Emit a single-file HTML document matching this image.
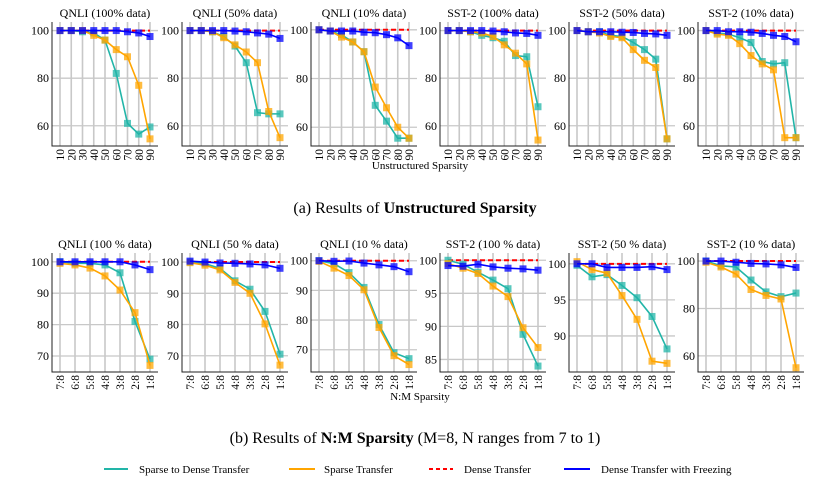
<!DOCTYPE html>
<html><head><meta charset="utf-8"><style>
html,body{margin:0;padding:0;background:#fff;}
svg{display:block;font-family:"Liberation Serif",serif;}
</style></head><body>
<svg id="chart" width="834" height="481" viewBox="0 0 834 481" xmlns="http://www.w3.org/2000/svg">
<text x="420" y="169" text-anchor="middle" font-size="11">Unstructured Sparsity</text>
<text x="415" y="213" text-anchor="middle" font-size="16">(a) Results of <tspan font-weight="bold">Unstructured Sparsity</tspan></text>
<text x="420" y="400" text-anchor="middle" font-size="11">N:M Sparsity</text>
<text x="415" y="443" text-anchor="middle" font-size="16">(b) Results of <tspan font-weight="bold">N:M Sparsity</tspan> (M=8, N ranges from 7 to 1)</text>
<g font-size="11">
<g><line x1="104" y1="469" x2="128" y2="469" stroke="#22b5a8" stroke-width="2"/><text x="139" y="473">Sparse to Dense Transfer</text></g>
<g><line x1="289" y1="469" x2="315" y2="469" stroke="#ffa500" stroke-width="2"/><text x="324" y="473">Sparse Transfer</text></g>
<g><line x1="429" y1="469" x2="453" y2="469" stroke="#f00" stroke-width="2" stroke-dasharray="4,3"/><text x="464" y="473">Dense Transfer</text></g>
<g><line x1="564" y1="469" x2="590" y2="469" stroke="#0000ff" stroke-width="2"/><text x="601" y="473">Dense Transfer with Freezing</text></g>
</g>
</svg>
<script>
const unstructCats = ["10","20","30","40","50","60","70","80","90"];
const nmCats = ["7:8","6:8","5:8","4:8","3:8","2:8","1:8"];
const titles = ["QNLI (100% data)","QNLI (50% data)","QNLI (10% data)","SST-2 (100% data)","SST-2 (50% data)","SST-2 (10% data)",
"QNLI (100 % data)","QNLI (50 % data)","QNLI (10 % data)","SST-2 (100 % data)","SST-2 (50 % data)","SST-2 (10 % data)"];
const s2dValues = [
[100,100,99.5,99,96,82,61,56.5,59.5],
[100,100,99.5,97.5,93.5,86.5,65.5,65,65],
[100,99.5,98,95,91,69,62.5,55.5,55.5],
[100,100,99.5,98,97,95.5,89.5,89,68],
[100,99.5,99.5,98,97.5,95,92,88,54.5],
[100,99,98.5,97,95,87,86,86.5,55],
[100,99.5,99.5,99,96.5,81,69],
[100,99.5,98,94,91.3,84.2,70.5],
[100,99,96,91,78.5,69,67],
[100,99.4,98.2,97,95.7,88.8,84],
[99.8,98.2,98.5,97,95.3,92.7,88.2],
[100,98,97.5,92,87,85,86.5]];
const sparseValues = [
[100,100,100,98,96,92,89,77,54.5],
[100,100,99.5,97,94,91,86.5,66,55],
[100,99.5,97,95,91,76.5,68,60,55.5],
[100,100,99.5,99,97.5,94,90.5,86,54],
[100,99.5,99,97.5,97,92,87.5,84.5,54.5],
[100,98.5,98,94.5,89.5,86,83.5,55,55],
[99.5,99,98,95.5,91,83.8,67],
[99.8,99,97.5,93.5,90,80.2,67],
[99.8,97.5,95,90.2,77.5,68,65],
[99.5,98.8,98,96.1,94.5,89.8,86.8],
[100.3,99.2,98.7,95.6,92.3,86.5,86.2],
[99.5,97.5,94.5,88,85.5,84,55]];
const freezeValues = [
[100,100,100,100,100,100,99.5,99,97.5],
[100,100,100,100,99.8,99.5,99,98.5,96.7],
[100,99.5,99.5,99.5,99,98.8,98,96.7,93.5],
[100,100,100,100,99.8,99.5,99,98.8,98],
[100,99.5,99.5,99.5,99.3,99.2,98.8,98.6,98],
[100,100,99.5,99.5,99.3,98.8,98,97.5,95.3],
[100,100,100,100,100,99,97.5],
[100.3,100,99.7,99.6,99.4,99.1,98],
[100,99.8,99.9,99.2,98.6,98,96.3],
[99.2,99.1,99.4,99,98.8,98.7,98.5],
[100,100,99.5,99.5,99.5,99.6,99.2],
[100,100,99.5,99,98.8,98.4,97.3]];
const denseValue = [100,100,100,100,100,100,100,100,100,100,100,100];
const yTicks = [[60,80,100],[60,80,100],[60,80,100],[60,80,100],[60,80,100],[60,80,100],
[70,80,90,100],[70,80,90,100],[70,80,90,100],[85,90,95,100],[90,95,100],[60,80,100]];
const yDomains = [[51.5,103.6],[51.5,103.6],[52.3,103.2],[51.5,103.6],[51.5,103.6],[51.5,103.6],
[64.9,102.8],[64.8,102.9],[62.5,102.6],[83.1,101.1],[85,101.5],[53.2,103.4]];

const NS="http://www.w3.org/2000/svg";
const svg=document.getElementById('chart');
function mk(tag,attrs,parent){const e=document.createElementNS(NS,tag);for(const k in attrs)e.setAttribute(k,attrs[k]);parent.appendChild(e);return e;}
const lefts=[52,182,311,440,569,698];
const TEAL="#22b5a8",ORANGE="#ffa500",BLUE="#0000ff";
for(let p=0;p<12;p++){
  const row=p<6?0:1;
  const L=lefts[p%6],W=106;
  const top=row?253:22,bot=row?372:146;
  const cats=row?nmCats:unstructCats;
  const [y0,y1]=yDomains[p];
  const xs=i=>L+8+i*(90/(cats.length-1));
  const ys=v=>bot-(v-y0)/(y1-y0)*(bot-top);
  const g=mk('g',{},svg);
  
  
  const t=mk('text',{x:L+W/2,y:top-5,'text-anchor':'middle','font-size':12},g);
  t.textContent=titles[p];
  
  
  cats.forEach((c,i)=>{
    const gl=mk('line',{x1:xs(i),x2:xs(i),y1:top,y2:bot,stroke:'#c8c8c8','stroke-width':1.6},g);
    
    
    const tx=xs(i)+4,ty=bot+3;
    const tl=mk('text',{x:tx,y:ty,'font-size':11.5,'text-anchor':'end',transform:`rotate(-90 ${tx} ${ty})`},g);
    tl.textContent=c;
    
    
  });
  yTicks[p].forEach(v=>{
    const gl=mk('line',{x1:L,x2:L+W,y1:ys(v),y2:ys(v),stroke:'#c8c8c8','stroke-width':1.3},g);
    
    
    const tl=mk('text',{x:L-3,y:ys(v)+4,'font-size':12,'text-anchor':'end'},g);
    tl.textContent=v;
    
    
  });
  const ax=mk('path',{d:`M${L},${top} V${bot} H${L+W}`,fill:'none',stroke:'#222','stroke-width':1},g);
  
  
  function series(vals,color,name){
    const pl=mk('polyline',{points:vals.map((v,i)=>xs(i)+','+ys(v)).join(' '),fill:'none',stroke:color,'stroke-width':1.6},g);
    
    
    vals.forEach((v,i)=>{
      const r=mk('rect',{x:xs(i)-3.5,y:ys(v)-3.5,width:7,height:7,fill:color,'fill-opacity':0.75},g);
      
      
    });
  }
  const dl=mk('line',{x1:xs(0),x2:xs(cats.length-1),y1:ys(denseValue[p]),y2:ys(denseValue[p]),stroke:'#f00','stroke-width':2,'stroke-dasharray':'5,3'},g);
  
  
  series(s2dValues[p],TEAL,'sparse-to-dense');
  series(sparseValues[p],ORANGE,'sparse');
  series(freezeValues[p],BLUE,'dense-freezing');
}
</script>
</body></html>
